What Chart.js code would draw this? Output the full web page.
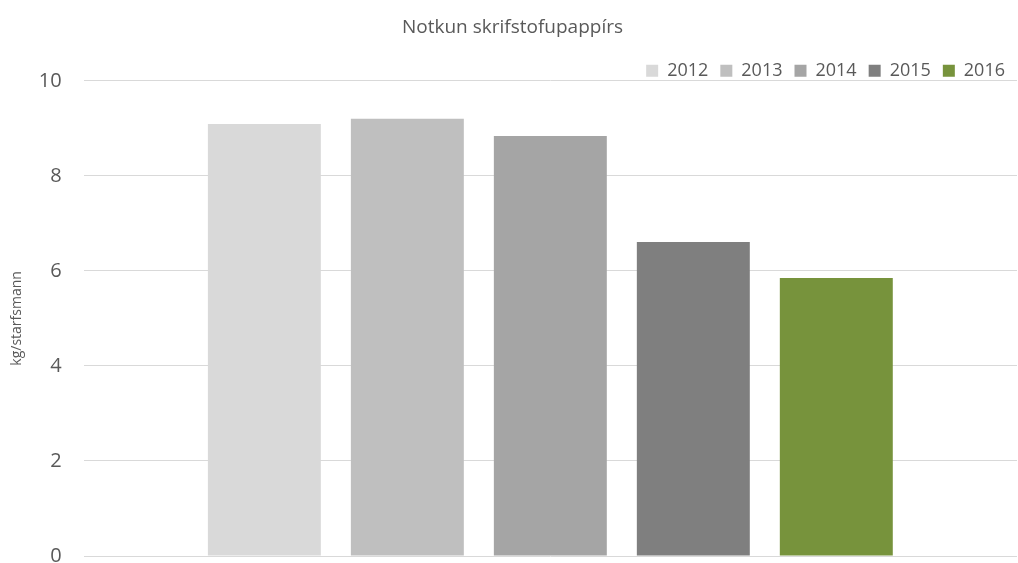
<!DOCTYPE html>
<html>
<head>
<meta charset="utf-8">
<script src="https://cdn.jsdelivr.net/npm/chart.js@4/dist/chart.umd.min.js"></script>
<style>
  html, body { margin: 0; padding: 0; background: #fff; }
  #wrap { width: 1018px; height: 563px; position: relative; }
</style>
</head>
<body>
<div id="wrap"><canvas id="paperChart"></canvas></div>
<script>
// chart data
const YEARS = ['2012', '2013', '2014', '2015', '2016'];
const KG_PER_EMPLOYEE = [9.09, 9.2, 8.84, 6.61, 5.85];
const BAR_COLORS = ['#d9d9d9', '#bfbfbf', '#a5a5a5', '#7f7f7f', '#77933c'];
const Y_TICKS = [0, 2, 4, 6, 8, 10];

const TEXT = '#595959';
const FONT = "'Open Sans', 'Liberation Sans', sans-serif";

// one dataset per year, all in a single (blank) category
const datasets = YEARS.map((y, i) => ({
  label: y,
  data: [KG_PER_EMPLOYEE[i]],
  backgroundColor: BAR_COLORS[i],
  borderWidth: 0,
  categoryPercentage: 0.766,
  barPercentage: 0.79
}));

// legend sits just above the top gridline, so don't let it reserve its full height
const legendTrim = {
  id: 'legendTrim',
  beforeUpdate(chart) {
    const lg = chart.legend;
    if (lg && !lg._trimmed) {
      const fit = lg.fit;
      lg.fit = function () { fit.call(this); this.height -= 9; };
      lg._trimmed = true;
    }
  }
};

new Chart(document.getElementById('paperChart'), {
  type: 'bar',
  data: { labels: [''], datasets },
  plugins: [legendTrim],
  options: {
    responsive: true,
    maintainAspectRatio: false,
    animation: false,
    layout: { padding: { left: 8, right: 1, top: 4, bottom: 7 } },
    plugins: {
      title: {
        display: true,
        text: 'Notkun skrifstofupappírs',
        color: TEXT,
        font: { family: FONT, size: 19, weight: 'normal' },
        padding: { top: 12, bottom: 11 }
      },
      legend: {
        position: 'top',
        align: 'end',
        labels: {
          color: TEXT,
          font: { family: FONT, size: 18 },
          boxWidth: 12,
          boxHeight: 12,
          padding: 12
        }
      },
      tooltip: { enabled: false }
    },
    scales: {
      x: { display: false },
      y: {
        min: 0,
        max: 10,
        afterBuildTicks: ax => { ax.ticks = Y_TICKS.map(v => ({ value: v })); },
        afterFit: ax => {
          ax.paddingTop = 0;
          ax.paddingBottom = 0;
          ax.width -= 23; // tick padding gets counted twice
        },
        ticks: {
          color: TEXT,
          font: { family: FONT, size: 20 },
          padding: 22
        },
        grid: { color: '#d9d9d9', drawTicks: false },
        border: { display: false },
        title: {
          display: true,
          text: 'kg/starfsmann',
          color: TEXT,
          font: { family: FONT, size: 14 },
          padding: { top: 1, bottom: 14 }
        }
      }
    }
  }
});
</script>
</body>
</html>
